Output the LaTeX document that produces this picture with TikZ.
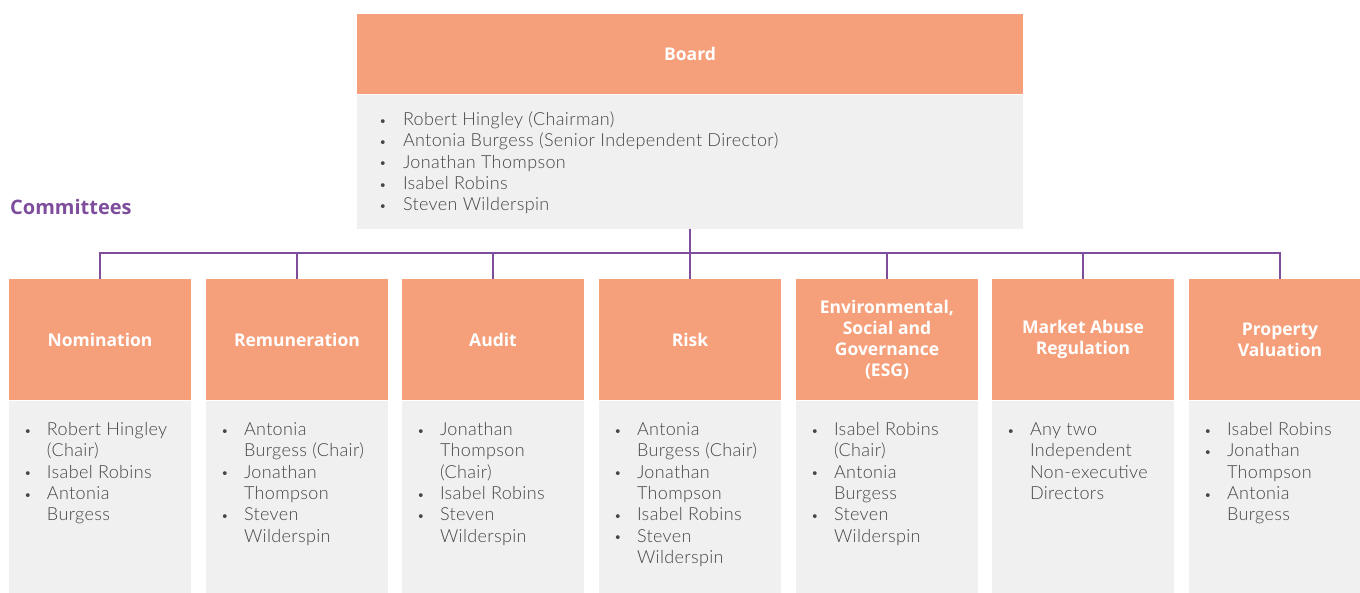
\documentclass[tikz,border=0pt]{standalone}
\usepackage{fontspec}
\setmainfont{Lato}
\newfontfamily\lightfont{Lato Light}[LetterSpace=2]
\newfontfamily\hfont{Open Sans}[BoldFont={* Bold}]
\definecolor{orangehdr}{HTML}{F6A07B}
\definecolor{graybody}{HTML}{F0F0F0}
\definecolor{purpleline}{HTML}{7E4E9C}
\definecolor{bodytext}{HTML}{454545}
\newcommand{\bul}{\raisebox{0.3pt}{\fontsize{13}{13}\selectfont\textbullet}}
\newcommand{\bl}[1]{\makebox[38pt][c]{\bul}&#1\\}
\newcommand{\cl}[1]{&#1\\}
\newcommand{\bbl}[1]{\makebox[40pt][c]{\bul}&#1\\}
\tikzset{
  hdr/.style={fill=orangehdr, text=white, font=\hfont\bfseries\fontsize{17.5}{21.3}\selectfont, align=center, inner sep=0pt, anchor=north},
  bodybox/.style={fill=graybody, inner sep=0pt, anchor=north},
  listtext/.style={inner sep=0pt, anchor=north west, text=bodytext, font=\lightfont\fontsize{18}{21.3}\selectfont, align=left},
  conn/.style={draw=purpleline, line width=1.2pt},
  ctitle/.style={text=purpleline, font=\hfont\bfseries\fontsize{20}{24}\selectfont, inner sep=0pt, anchor=base west}
}
\newcommand{\lst}[1]{\begin{tabular}{@{}l@{}l@{}}#1\end{tabular}}
\begin{document}
\begin{tikzpicture}[x=1pt,y=-1pt]
\useasboundingbox (0,0) rectangle (1360,593);
% Board
\node[hdr, minimum width=666pt, minimum height=80pt] (board) at (690,14) {Board};
\node[bodybox, minimum width=666pt, minimum height=134pt] (boardbody) at (board.south) {};
\node[listtext, yshift=-16pt, xshift=6pt] (boardlist) at (boardbody.north west) {\lst{%
\bbl{Robert Hingley (Chairman)}
\bbl{Antonia Burgess (Senior Independent Director)}
\bbl{Jonathan Thompson}
\bbl{Isabel Robins}
\bbl{Steven Wilderspin}}};
\node[ctitle] (ctitle) at (10,215) {Committees};
% Committees
\foreach \n/\x/\t in {h1/100/Nomination, h2/297/Remuneration, h3/493/Audit, h4/690/Risk, h5/887/{Environmental,\\Social and\\Governance\\(ESG)}, h6/1083/{Market Abuse\\Regulation}, h7/1280/{Property\\Valuation}}{
  \node[hdr, minimum width=182pt, minimum height=121pt] (\n) at (\x,279) {\t};
}
\foreach \n/\h in {b1/h1, b2/h2, b3/h3, b4/h4, b5/h5, b6/h6, b7/h7}{
  \node[bodybox, minimum width=182pt, minimum height=200pt] (\n) at (\h.south) {};
}
\node[listtext, yshift=-20pt] (l1) at (b1.north west) {\lst{%
\bl{Robert Hingley}\cl{(Chair)}\bl{Isabel Robins}\bl{Antonia}\cl{Burgess}}};
\node[listtext, yshift=-20pt] (l2) at (b2.north west) {\lst{%
\bl{Antonia}\cl{Burgess (Chair)}\bl{Jonathan}\cl{Thompson}\bl{Steven}\cl{Wilderspin}}};
\node[listtext, yshift=-20pt] (l3) at (b3.north west) {\lst{%
\bl{Jonathan}\cl{Thompson}\cl{(Chair)}\bl{Isabel Robins}\bl{Steven}\cl{Wilderspin}}};
\node[listtext, yshift=-20pt] (l4) at (b4.north west) {\lst{%
\bl{Antonia}\cl{Burgess (Chair)}\bl{Jonathan}\cl{Thompson}\bl{Isabel Robins}\bl{Steven}\cl{Wilderspin}}};
\node[listtext, yshift=-20pt] (l5) at (b5.north west) {\lst{%
\bl{Isabel Robins}\cl{(Chair)}\bl{Antonia}\cl{Burgess}\bl{Steven}\cl{Wilderspin}}};
\node[listtext, yshift=-20pt] (l6) at (b6.north west) {\lst{%
\bl{Any two}\cl{Independent}\cl{Non-executive}\cl{Directors}}};
\node[listtext, yshift=-20pt] (l7) at (b7.north west) {\lst{%
\bl{Isabel Robins}\bl{Jonathan}\cl{Thompson}\bl{Antonia}\cl{Burgess}}};
% Connectors
\coordinate (bus) at (690,253);
\draw[conn] (boardbody.south) -- (bus);
\draw[conn] (h1.north) |- (h7.north |- bus) -- (h7.north);
\foreach \n in {h2,h3,h4,h5,h6}{
  \draw[conn] (\n.north) -- (\n.north |- bus);
}
\end{tikzpicture}
\end{document}
